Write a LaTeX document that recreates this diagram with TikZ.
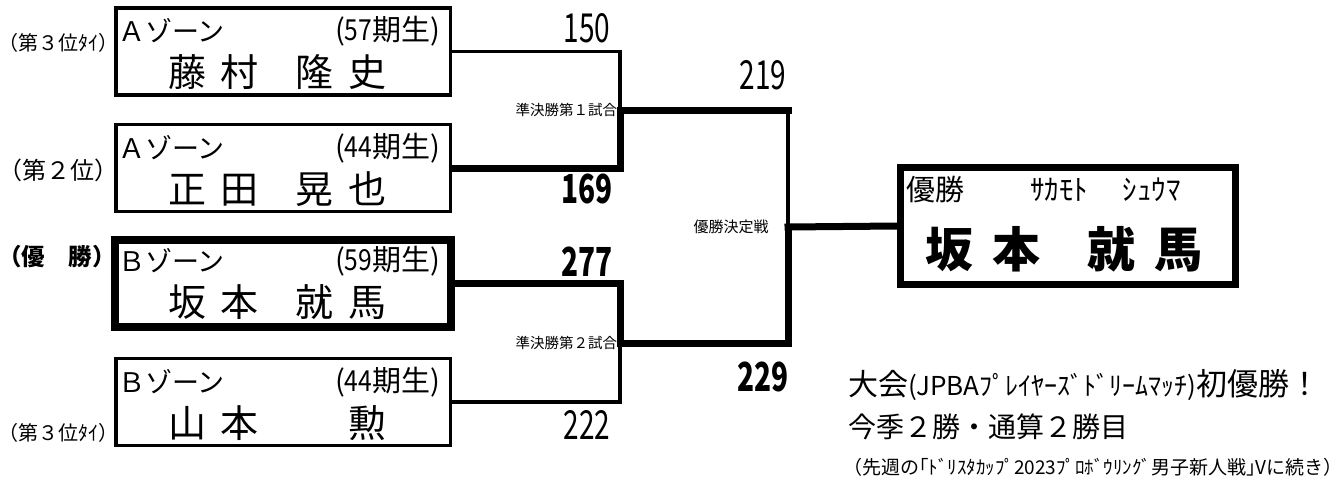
\documentclass[tikz,border=0pt]{standalone}
\usepackage{fontspec}
\setmainfont{Noto Sans CJK JP}
\newfontfamily\cond[FakeStretch=0.7]{Noto Sans CJK JP}
\newfontfamily\semicond[FakeStretch=0.85]{Noto Sans CJK JP}
\newcommand\fs[1]{\fontsize{#1}{#1}\selectfont}
\newcommand\fourname[4]{#1\hspace{15pt}#2\hspace{37pt}#3\hspace{15pt}#4}
\newcommand\lpar{{\addfontfeature{RawFeature=+halt}（}}
\newcommand\rpar{{\addfontfeature{RawFeature=+halt}）}}
\begin{document}
\begin{tikzpicture}[x=1pt,y=-1pt,
  thinline/.style={line width=3.5pt},
  thickline/.style={line width=7pt, line cap=rect},
  pbox/.style={draw, rectangle, inner sep=0pt, line width=3.5pt, minimum width=334.5pt, minimum height=87pt},
  wbox/.style={draw, rectangle, inner sep=0pt, line width=8pt, minimum width=336pt, minimum height=87pt},
  cbox/.style={draw, rectangle, inner sep=0pt, line width=7pt, minimum width=335pt, minimum height=117pt},
  txt/.style={inner sep=0pt, outer sep=0pt},
  score/.style={txt, font=\cond\fs{40}},
  bscore/.style={txt, font=\cond\bfseries\fs{40}},
  zone/.style={txt, anchor=west, font=\fs{27}},
  term/.style={txt, anchor=east, font=\fs{29}},
  pname/.style={txt, anchor=west, font=\fs{38}},
  small/.style={txt, font=\fs{14.5}},
]
\useasboundingbox (0,0) rectangle (1341,482);

% player boxes
\node[pbox] (b1) at (283,51.5) {};
\node[pbox] (b2) at (283,168) {};
\node[wbox] (b3) at (283,283.5) {};
\node[pbox] (b4) at (283,402) {};
\node[cbox] (ch) at (1068,226) {};

% box texts
\node[zone] (z1) at (118,31) {Ａゾーン};
\node[term] (t1) at (440,31) {({\semicond 57}期生)};
\node[pname] (n1) at (168,72) {\fourname{藤}{村}{隆}{史}};

\node[zone] (z2) at (118,148) {Ａゾーン};
\node[term] (t2) at (440,148) {({\semicond 44}期生)};
\node[pname] (n2) at (168,189) {\fourname{正}{田}{晃}{也}};

\node[zone] (z3) at (118,261) {Ｂゾーン};
\node[term] (t3) at (440,261) {({\semicond 59}期生)};
\node[pname] (n3) at (168,302) {\fourname{坂}{本}{就}{馬}};

\node[zone] (z4) at (118,382) {Ｂゾーン};
\node[term] (t4) at (440,382) {({\semicond 44}期生)};
\node[pname] (n4) at (168,423) {\fourname{山}{本}{\phantom{隆}}{勲}};

% left labels
\node[txt, font=\fs{20}] (l1) at (59,43) {\lpar 第３位ﾀｲ\rpar};
\node[txt, font=\fs{24}] (l2) at (58,170) {\lpar 第２位\rpar};
\node[txt, font=\bfseries\fs{23.5}] (l3) at (57,257) {\lpar 優　勝\rpar};
\node[txt, font=\fs{20}] (l4) at (59,433) {\lpar 第３位ﾀｲ\rpar};

% scores
\node[score] (s1) at (587,28) {150};
\node[bscore] (s2) at (587,189) {169};
\node[bscore] (s3) at (587,262) {277};
\node[score] (s4) at (587,425) {222};
\node[score] (s5) at (763,75) {219};
\node[bscore] (s6) at (763,377) {229};

% junctions
\coordinate (sf1) at (620,110);
\coordinate (sf2) at (620,343);
\coordinate (fnl) at (788,227);

% connectors
\draw[thinline] (b1.east) -| (sf1);
\draw[thickline] (b2.east) -| (sf1);
\draw[thickline] (b3.east) -| (sf2);
\draw[thinline] (b4.east) -| (sf2);
\draw[thickline] (sf1) -- (sf1 -| fnl);
\draw[thinline] (sf1 -| fnl) -- (fnl);
\draw[thickline] (sf2) -| (fnl);
\draw[thickline] (fnl) -- (ch.west);

% match labels
\node[small, anchor=east] (m1) at (617,110) {準決勝第１試合};
\node[small, anchor=east] (m2) at (617,343) {準決勝第２試合};
\node[txt, font=\fs{15}] (m3) at (731,227) {優勝決定戦};

% champion texts
\node[txt, anchor=west, font=\fs{29}] (c1) at (906,190) {優勝};
\node[txt, anchor=west, font=\fs{29}] (c2) at (1030,190) {ｻｶﾓﾄ\hspace{35pt}ｼｭｳﾏ};
\node[txt, anchor=west, font=\bfseries\fs{48}] (c3) at (925,249) {坂\hspace{20pt}本\hspace{46pt}就\hspace{20pt}馬};

% notes
\node[txt, anchor=west] (r1) at (848,385) {{\fs{30}大会}{\fs{26}(JPBAﾌﾟﾚｲﾔｰｽﾞﾄﾞﾘｰﾑﾏｯﾁ)}{\fs{31}初優勝！}};
\node[txt, anchor=west, font=\fs{28}] (r2) at (848,427) {今季２勝・通算２勝目};
\node[txt, anchor=west, font=\fs{19}] (r3) at (843,467) {（先週の｢ﾄﾞﾘｽﾀｶｯﾌﾟ2023ﾌﾟﾛﾎﾞｳﾘﾝｸﾞ男子新人戦｣Vに続き）};
\end{tikzpicture}
\end{document}
